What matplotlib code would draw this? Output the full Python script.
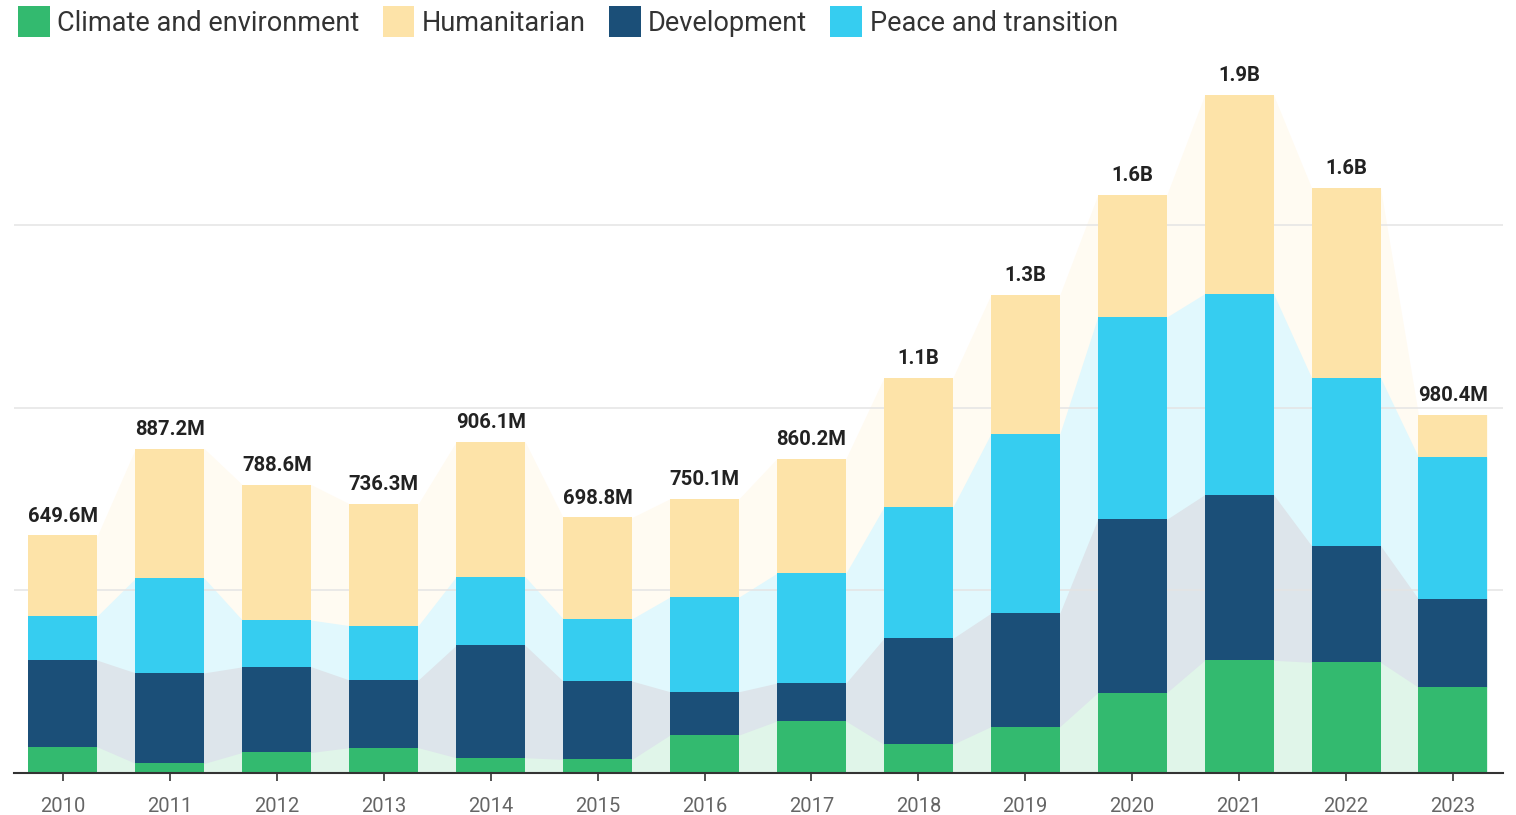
import numpy as np
import matplotlib
matplotlib.use("Agg")
import matplotlib.pyplot as plt
from matplotlib.patches import Patch
from matplotlib.colors import to_rgb

plt.rcParams['font.family'] = ['Roboto', 'DejaVu Sans']

# Funding by theme, in millions (USD)
years = ['2010', '2011', '2012', '2013', '2014', '2015', '2016',
         '2017', '2018', '2019', '2020', '2021', '2022', '2023']
climate = [70, 25, 55, 68, 40.5, 36, 102.7, 141, 77, 125.5, 218.6, 307.4, 301.9, 233.4]
development = [237.5, 248, 234.5, 185.5, 308, 214.5, 118.6, 104, 290.4, 310.7, 475, 453.7, 319.5, 241.9]
peace = [122, 259, 128, 149, 188, 170.7, 259.5, 301, 359.7, 491.2, 554.2, 550.7, 460.3, 389]
humanitarian = [220.1, 355.2, 371.1, 333.8, 369.6, 277.6, 269.3, 314.2, 354.2, 380.8, 334.2, 544.4, 520.5, 116.1]

legend_names = ['Climate and environment', 'Humanitarian', 'Development', 'Peace and transition']
colors = {
    'Climate and environment': '#33BA6F',
    'Humanitarian': '#FDE3A8',
    'Development': '#1B4F78',
    'Peace and transition': '#36CDF0',
}

# Stack order from the bottom up
stack = [('Climate and environment', climate),
         ('Development', development),
         ('Peace and transition', peace),
         ('Humanitarian', humanitarian)]


def tint(c, a=0.15):
    r, g, b = to_rgb(c)
    return (1 - a + a * r, 1 - a + a * g, 1 - a + a * b)


def fmt_total(v):
    if v >= 1000:
        return f"{v / 1000:.1f}B"
    return f"{v:.1f}M"


W, H = 1516, 815
fig = plt.figure(figsize=(W / 100, H / 100), dpi=100)
ax = fig.add_axes([14 / W, 42.5 / H, (1503 - 14) / W, (772.5 - 60.75) / H])

x = np.arange(len(years))
bw = 0.645

# Cumulative boundaries
vals = np.array([s[1] for s in stack], dtype=float)
tops = np.cumsum(vals, axis=0)
bottoms = tops - vals
totals = tops[-1]

# Light connecting areas between bars (drawn top layer first so bands abut cleanly)
xs = np.column_stack([x - bw / 2, x + bw / 2]).ravel()
for k in range(len(stack) - 1, -1, -1):
    name = stack[k][0]
    ax.fill_between(xs, 0, np.repeat(tops[k], 2), color=tint(colors[name]),
                    lw=0, zorder=1)

# Stacked bars
for k, (name, v) in enumerate(stack):
    ax.bar(x, v, bw, bottom=bottoms[k], color=colors[name], lw=0, zorder=3)

# Total labels
for i, t in enumerate(totals):
    ax.annotate(fmt_total(t), (x[i], t), xytext=(0, 7), textcoords='offset points',
                ha='center', va='bottom', fontsize=14.6, fontweight='bold',
                color='#222222', zorder=4)

ax.set_xlim(-0.458, len(years) - 1 + 0.468)
ax.set_ylim(0, 1950)
ax.set_yticks([500, 1000, 1500])
ax.yaxis.grid(True, color='#e4e4e4', lw=1.1, zorder=2)
ax.set_axisbelow(False)
for gl in ax.get_ygridlines():
    gl.set_zorder(2)
ax.tick_params(axis='y', left=False, labelleft=False)

ax.set_xticks(x)
ax.set_xticklabels(years)
ax.tick_params(axis='x', length=6, width=1.2, color='#333333', pad=11.5,
               labelsize=14.5, labelcolor='#666666')

for side in ['top', 'right', 'left']:
    ax.spines[side].set_visible(False)
ax.spines['bottom'].set_color('#333333')
ax.spines['bottom'].set_linewidth(1.5)
ax.spines['bottom'].set_zorder(5)

handles = [Patch(facecolor=colors[n], edgecolor='none', label=n) for n in legend_names]
fig.legend(handles=handles, loc='upper left', bbox_to_anchor=(18 / W, 1 - 6 / H),
           ncol=4, frameon=False, fontsize=19.5, handlelength=1.18, handleheight=1.4,
           handletextpad=0.27, columnspacing=0.85, borderpad=0, borderaxespad=0,
           labelcolor='#333333')

fig.savefig('out.png', dpi=100, facecolor='white')
